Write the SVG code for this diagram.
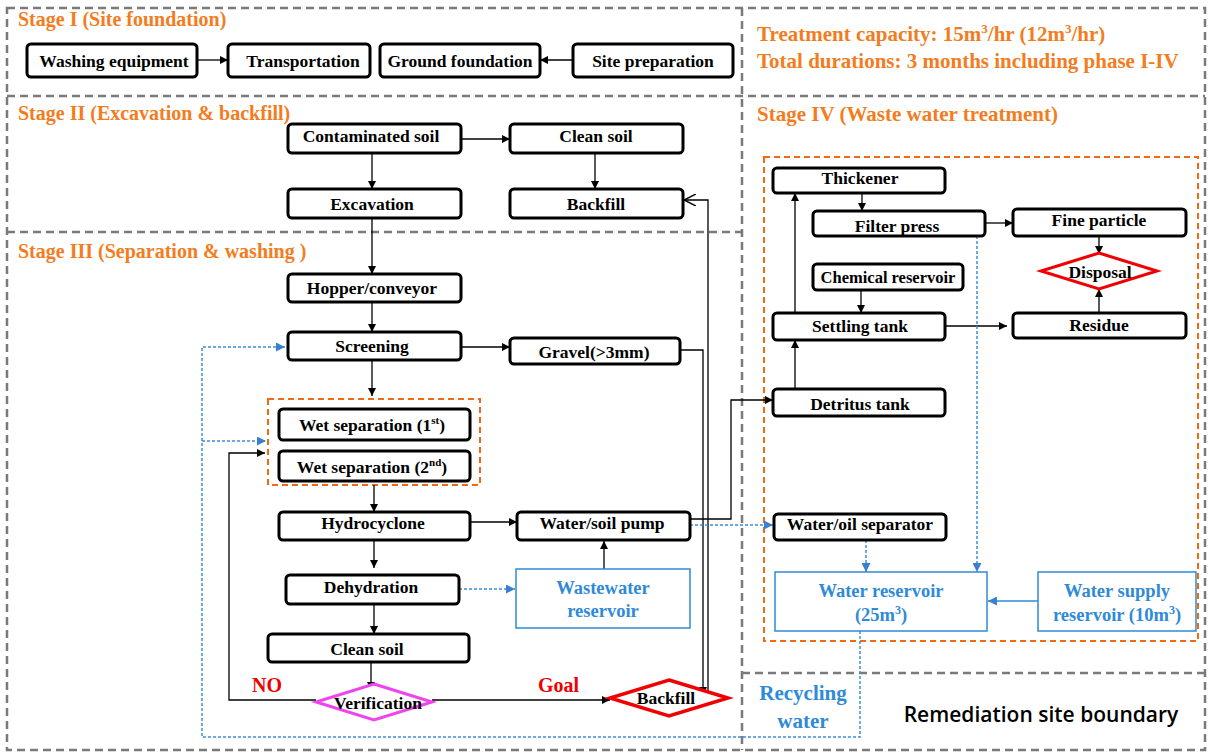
<svg xmlns="http://www.w3.org/2000/svg" width="1211" height="754" viewBox="0 0 1211 754">
<defs>
<style>
.bound{fill:none;stroke:#7a7a7a;stroke-width:2.5;stroke-dasharray:8 5}
.grp{fill:none;stroke:#f26a10;stroke-width:2;stroke-dasharray:6 4}
.box{fill:#fff;stroke:#000;stroke-width:3}
.bbox{fill:#fff;stroke:#2f8ad8;stroke-width:1.5}
.t{font-family:"Liberation Serif","Times New Roman",serif;font-weight:bold;font-size:17.5px;fill:#000;text-anchor:middle}
.tb{font-family:"Liberation Serif","Times New Roman",serif;font-weight:bold;font-size:18.5px;fill:#2f8ad8;text-anchor:middle}
.stage{font-family:"Liberation Serif","Times New Roman",serif;font-weight:bold;font-size:20px;fill:#f47c20}
.big{font-size:21px}
.red{font-family:"Liberation Serif","Times New Roman",serif;font-weight:bold;font-size:20px;fill:#f00000}
.ln{fill:none;stroke:#000;stroke-width:1.3}
.dl{fill:none;stroke:#3a8fe0;stroke-width:1.5;stroke-dasharray:3 2}
</style>
<marker id="ah" viewBox="0 0 10 10" refX="10" refY="5" markerWidth="8" markerHeight="8" markerUnits="userSpaceOnUse" orient="auto"><path d="M0,0L10,5L0,10z" fill="#000"/></marker>
<marker id="ahb" viewBox="0 0 10 10" refX="10" refY="5" markerWidth="9" markerHeight="9" markerUnits="userSpaceOnUse" orient="auto"><path d="M0,0L10,5L0,10z" fill="#3a7fd0"/></marker>
<marker id="aho" viewBox="0 0 10 10" refX="10" refY="5" markerWidth="12" markerHeight="12" markerUnits="userSpaceOnUse" orient="auto"><path d="M0,0L10,5L0,10" fill="none" stroke="#000" stroke-width="1.2"/></marker>
</defs>
<rect width="1211" height="754" fill="#fff"/>
<g id="boundaries">
<rect class="bound" x="7" y="8" width="1198" height="742"/>
<line class="bound" x1="7" y1="96" x2="1205" y2="96"/>
<line class="bound" x1="7" y1="232" x2="742" y2="232"/>
<line class="bound" x1="742" y1="8" x2="742" y2="750"/>
<line class="bound" x1="742" y1="673" x2="1205" y2="673"/>
<rect class="grp" x="268" y="399" width="212" height="86"/>
<rect class="grp" x="764" y="157" width="434" height="484"/>
</g>
<g id="labels">
<text class="stage" x="18" y="26">Stage I (Site foundation)</text>
<text class="stage" x="18" y="120">Stage II (Excavation &amp; backfill)</text>
<text class="stage" x="18" y="258">Stage III (Separation &amp; washing )</text>
<text class="stage big" x="757" y="121">Stage IV (Waste water treatment)</text>
<text class="stage big" x="757" y="41">Treatment capacity: 15m<tspan font-size="13" dy="-8">3</tspan><tspan dy="8">/hr (12m</tspan><tspan font-size="13" dy="-8">3</tspan><tspan dy="8">/hr)</tspan></text>
<text class="stage big" x="757" y="68">Total durations: 3 months including phase I-IV</text>
<text class="red" x="252" y="692">NO</text>
<text class="red" x="538" y="692">Goal</text>
<text class="tb" x="803" y="700" style="font-size:21px">Recycling</text>
<text class="tb" x="803" y="728" style="font-size:21px">water</text>
<text x="1041" y="722" style="font-family:'Open Sans','Liberation Sans',sans-serif;font-size:21px;font-weight:600;fill:#000;text-anchor:middle">Remediation site boundary</text>
</g>
<g id="connectors">
<path class="ln" marker-end="url(#ah)" d="M197,60H228"/>
<path class="ln" marker-end="url(#ah)" d="M573,60H540"/>
<path class="ln" marker-end="url(#ah)" d="M461,139H510"/>
<path class="ln" marker-end="url(#ah)" d="M372,153V189"/>
<path class="ln" marker-end="url(#ah)" d="M595,153V189"/>
<path class="ln" marker-end="url(#ah)" d="M372,218V274"/>
<path class="ln" marker-end="url(#ah)" d="M372,302V332"/>
<path class="ln" marker-end="url(#ah)" d="M461,347H510"/>
<path class="ln" marker-end="url(#ah)" d="M372,360V396"/>
<path class="ln" marker-end="url(#ah)" d="M374,485V512"/>
<path class="ln" marker-end="url(#ah)" d="M470,522H517"/>
<path class="ln" marker-end="url(#ah)" d="M374,540V568"/>
<path class="ln" marker-end="url(#ah)" d="M374,604V634"/>
<path class="ln" marker-end="url(#ah)" d="M371,662V690"/>
<path class="ln" marker-end="url(#ah)" d="M604,569V541"/>
<path class="ln" marker-end="url(#ah)" d="M432,700H610"/>
<path class="ln" marker-end="url(#ah)" d="M316,700H229V453H265"/>
<path class="ln" marker-end="url(#ah)" d="M680,350H703V695"/>
<path class="ln" marker-end="url(#aho)" d="M708,697V200H684"/>
<path class="ln" marker-end="url(#ah)" d="M690,519H731V400H773"/>
<path class="dl" marker-end="url(#ahb)" d="M690,525H773"/>
<path class="dl" marker-end="url(#ahb)" d="M459,589H515"/>
<path class="dl" marker-end="url(#ahb)" d="M860,631V737H202V347H285"/>
<path class="dl" marker-end="url(#ahb)" d="M202,441H266"/>
<path class="ln" marker-end="url(#ah)" d="M862,193V211"/>
<path class="ln" marker-end="url(#ah)" d="M985,223H1013"/>
<path class="ln" marker-end="url(#ah)" d="M1099,236V254"/>
<path class="ln" marker-end="url(#ah)" d="M1099,313V289"/>
<path class="ln" marker-end="url(#ah)" d="M861,290V313"/>
<path class="ln" marker-end="url(#ah)" d="M945,326H1007"/>
<path class="ln" marker-end="url(#ah)" d="M795,388V340"/>
<path class="ln" marker-end="url(#ah)" d="M795,313V193"/>
<path class="dl" marker-end="url(#ahb)" d="M977,236V572"/>
<path class="dl" marker-end="url(#ahb)" d="M866,540V572"/>
<path d="M1038,601H988" fill="none" stroke="#2f8ad8" stroke-width="1.5" marker-end="url(#ahb)"/>
</g>
<g id="washing-equipment"><rect class="box" x="27" y="44" width="170" height="33" rx="4"/><text class="t" x="114" y="67">Washing equipment</text></g>
<g id="transportation"><rect class="box" x="228" y="44" width="142" height="33" rx="4"/><text class="t" x="303" y="67">Transportation</text></g>
<g id="ground-foundation"><rect class="box" x="380" y="44" width="160" height="33" rx="4"/><text class="t" x="460" y="67">Ground foundation</text></g>
<g id="site-preparation"><rect class="box" x="573" y="44" width="160" height="33" rx="4"/><text class="t" x="653" y="67">Site preparation</text></g>
<g id="contaminated-soil"><rect class="box" x="288" y="124" width="173" height="29" rx="4"/><text class="t" x="371" y="142">Contaminated soil</text></g>
<g id="clean-soil-1"><rect class="box" x="510" y="124" width="173" height="29" rx="4"/><text class="t" x="596" y="142">Clean soil</text></g>
<g id="excavation"><rect class="box" x="288" y="189" width="173" height="29" rx="4"/><text class="t" x="372" y="210">Excavation</text></g>
<g id="backfill-1"><rect class="box" x="510" y="189" width="173" height="29" rx="4"/><text class="t" x="596" y="210">Backfill</text></g>
<g id="hopper"><rect class="box" x="288" y="274" width="173" height="28" rx="4"/><text class="t" x="372" y="294">Hopper/conveyor</text></g>
<g id="screening"><rect class="box" x="288" y="332" width="173" height="28" rx="4"/><text class="t" x="372" y="352">Screening</text></g>
<g id="gravel"><rect class="box" x="510" y="338" width="170" height="26" rx="4"/><text class="t" x="594" y="358">Gravel(&gt;3mm)</text></g>
<g id="wet-sep-1"><rect class="box" x="279" y="409" width="191" height="31" rx="4"/><text class="t" x="372" y="431">Wet separation (1<tspan font-size="11" dy="-7">st</tspan><tspan dy="7">)</tspan></text></g>
<g id="wet-sep-2"><rect class="box" x="279" y="451" width="191" height="30" rx="4"/><text class="t" x="372" y="473">Wet separation (2<tspan font-size="11" dy="-7">nd</tspan><tspan dy="7">)</tspan></text></g>
<g id="hydrocyclone"><rect class="box" x="279" y="512" width="191" height="28" rx="4"/><text class="t" x="373" y="529">Hydrocyclone</text></g>
<g id="pump"><rect class="box" x="517" y="512" width="173" height="28" rx="4"/><text class="t" x="602" y="529">Water/soil pump</text></g>
<g id="dehydration"><rect class="box" x="286" y="575" width="173" height="29" rx="4"/><text class="t" x="371" y="593">Dehydration</text></g>
<g id="wastewater-reservoir"><rect class="bbox" x="516" y="569" width="174" height="59"/><text class="tb" x="603" y="594">Wastewater</text><text class="tb" x="603" y="617">reservoir</text></g>
<g id="clean-soil-2"><rect class="box" x="268" y="634" width="201" height="28" rx="4"/><text class="t" x="367" y="655">Clean soil</text></g>
<g id="verification"><polygon points="374,684 432,702 374,720 316,702" fill="#fff" stroke="#ee44ee" stroke-width="3"/><text class="t" x="378" y="709">Verification</text></g>
<g id="backfill-2"><polygon points="669,680 728,698 669,716 610,698" fill="#fff" stroke="#f00000" stroke-width="3.5"/><text class="t" x="666" y="704">Backfill</text></g>
<g id="thickener"><rect class="box" x="773" y="168" width="172" height="25" rx="4"/><text class="t" x="860" y="184">Thickener</text></g>
<g id="filter-press"><rect class="box" x="813" y="211" width="172" height="25" rx="4"/><text class="t" x="897" y="232">Filter press</text></g>
<g id="fine-particle"><rect class="box" x="1013" y="209" width="173" height="27" rx="4"/><text class="t" x="1099" y="226">Fine particle</text></g>
<g id="chemical-reservoir"><rect class="box" x="813" y="264" width="150" height="26" rx="4"/><text class="t" x="888" y="283" style="font-size:16.5px">Chemical reservoir</text></g>
<g id="disposal"><polygon points="1099,253 1157,271 1099,289 1041,271" fill="#fff" stroke="#f00000" stroke-width="3"/><text class="t" x="1100" y="278">Disposal</text></g>
<g id="settling-tank"><rect class="box" x="773" y="313" width="172" height="27" rx="4"/><text class="t" x="860" y="332">Settling tank</text></g>
<g id="residue"><rect class="box" x="1013" y="313" width="173" height="25" rx="4"/><text class="t" x="1099" y="331">Residue</text></g>
<g id="detritus-tank"><rect class="box" x="773" y="389" width="172" height="27" rx="4"/><text class="t" x="860" y="410">Detritus tank</text></g>
<g id="water-oil-separator"><rect class="box" x="774" y="514" width="172" height="26" rx="4"/><text class="t" x="860" y="530">Water/oil separator</text></g>
<g id="water-reservoir"><rect class="bbox" x="775" y="572" width="212" height="59"/><text class="tb" x="881" y="597">Water reservoir</text><text class="tb" x="881" y="621">(25m<tspan font-size="12" dy="-7">3</tspan><tspan dy="7">)</tspan></text></g>
<g id="water-supply"><rect class="bbox" x="1038" y="572" width="158" height="59"/><text class="tb" x="1117" y="597">Water supply</text><text class="tb" x="1117" y="621">reservoir (10m<tspan font-size="12" dy="-7">3</tspan><tspan dy="7">)</tspan></text></g>
</svg>
